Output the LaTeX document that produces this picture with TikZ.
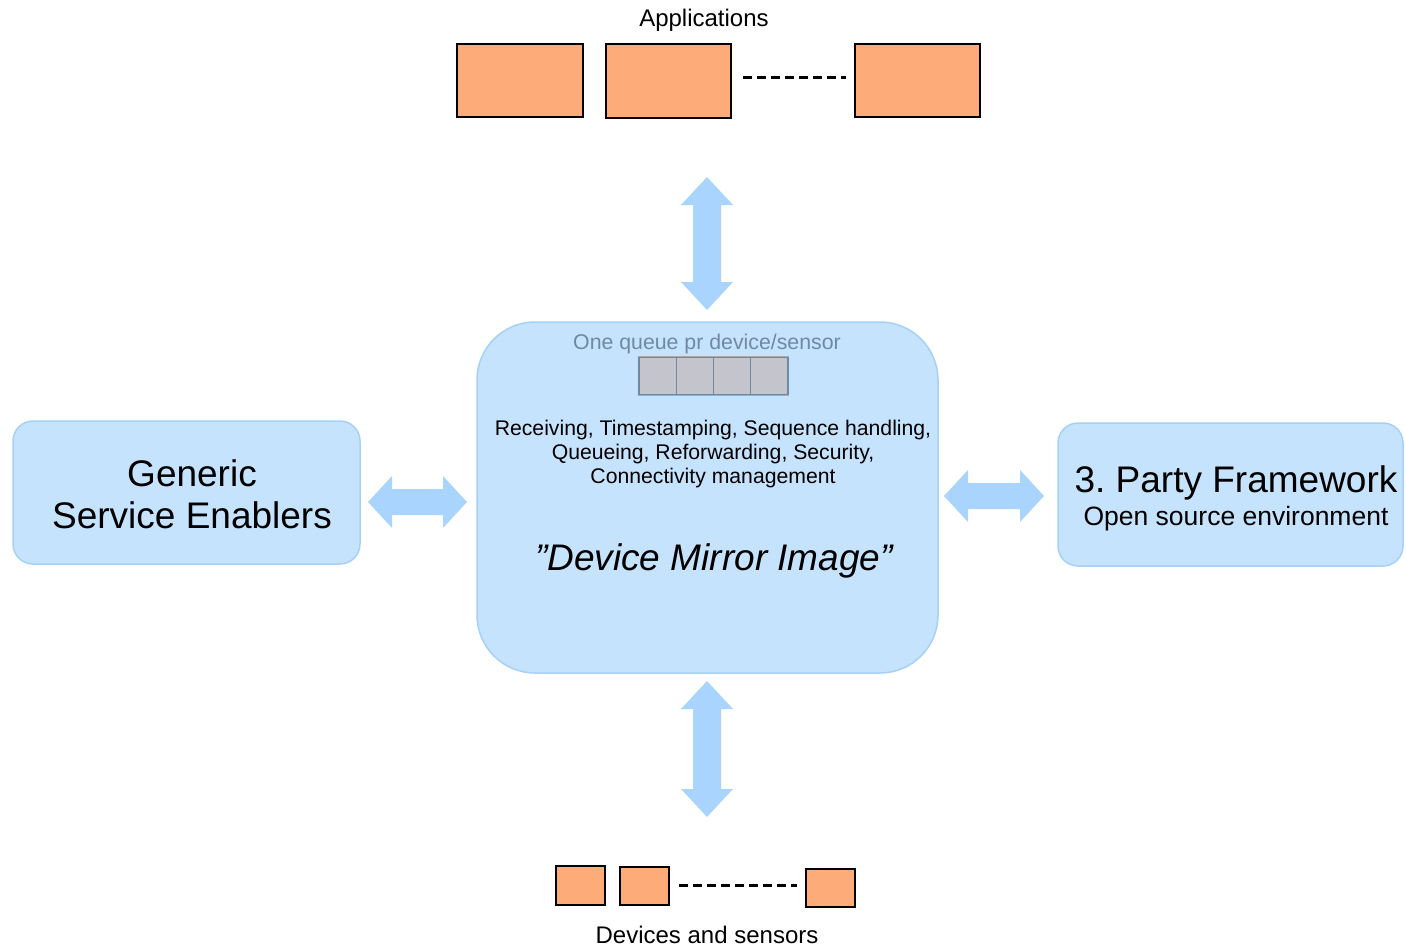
\documentclass[tikz,border=0pt]{standalone}
\usepackage{fontspec}
\setmainfont{Liberation Sans}
\frenchspacing
\definecolor{boxblue}{HTML}{C6E3FD}
\definecolor{boxborder}{HTML}{A6D1F7}
\definecolor{arrowblue}{HTML}{A8D4FE}
\definecolor{orangefill}{HTML}{FEAB7A}
\definecolor{queuefill}{HTML}{C4C4CC}
\definecolor{queueline}{HTML}{7089A3}
\definecolor{queueouter}{HTML}{A8A8B0}
\definecolor{queuetext}{HTML}{7088A6}
\newcommand\vdarrow[3]{%
  \fill[arrowblue] (#1,#2) -- ({#1+26},{#2+28}) -- ({#1+14},{#2+28}) -- ({#1+14},{#3-28}) -- ({#1+26},{#3-28}) -- (#1,#3) -- ({#1-26},{#3-28}) -- ({#1-14},{#3-28}) -- ({#1-14},{#2+28}) -- ({#1-26},{#2+28}) -- cycle;}
\newcommand\hdarrow[3]{%
  \fill[arrowblue] (#2,#1) -- ({#2+24},{#1-26}) -- ({#2+24},{#1-13}) -- ({#3-24},{#1-13}) -- ({#3-24},{#1-26}) -- (#3,#1) -- ({#3-24},{#1+26}) -- ({#3-24},{#1+13}) -- ({#2+24},{#1+13}) -- ({#2+24},{#1+26}) -- cycle;}
\begin{document}
\begin{tikzpicture}[x=1pt,y=-1pt,
  orangebox/.style={draw=black, line width=2pt, fill=orangefill, inner sep=0pt},
  bluebox/.style={draw=boxborder, line width=1.5pt, fill=boxblue, inner sep=0pt},
  txt/.style={inner sep=0pt, align=center},
  dashline/.style={line width=3pt, dash pattern=on 9pt off 5pt},
  qcell/.style={draw=queueline, line width=1.2pt, fill=queuefill, inner sep=0pt, minimum width=37.25pt, minimum height=37pt}]
\useasboundingbox (0,0) rectangle (1406,947);
% applications
\node[txt, font=\fontsize{24}{28}\selectfont] (applbl) at (704,20) {Applications};
\node[orangebox, minimum width=126pt, minimum height=73pt] (app1) at (520,80.5) {};
\node[orangebox, minimum width=125pt, minimum height=74pt] (app2) at (668.5,81) {};
\node[orangebox, minimum width=125pt, minimum height=73pt] (app3) at (917.5,80.5) {};
\draw[dashline] ([xshift=11pt,yshift=3pt]app2.east) -- ([xshift=-8pt,yshift=2.5pt]app3.west);
% central box
\node[bluebox, rounded corners=58pt, minimum width=461pt, minimum height=351pt] (dmi) at (707.5,497.5) {};
\node[txt, text=queuetext, font=\fontsize{21.3}{24}\selectfont] (qlbl) at (707,344) {One queue pr device/sensor};
\node[draw=queueouter, line width=2pt, fill=queuefill, inner sep=0pt, minimum width=149pt, minimum height=38pt] (queue) at (713.5,376) {};
\node[qcell] (q1) at (657.6,376) {};
\node[qcell] (q2) at (694.9,376) {};
\node[qcell] (q3) at (732.1,376) {};
\node[qcell] (q4) at (769.4,376) {};
\node[txt, font=\fontsize{21.2}{24}\selectfont] (func) at (713,454) {Receiving, Timestamping, Sequence handling,\\Queueing, Reforwarding, Security,\\Connectivity management};
\node[txt, font=\fontsize{37}{42}\itshape] (dmitxt) at (714,561) {”Device Mirror Image”};
% side boxes
\node[bluebox, rounded corners=20pt, minimum width=347pt, minimum height=143pt] (gse) at (186.5,492.5) {};
\node[txt, font=\fontsize{37}{42}\selectfont] (gsetxt) at (192,494) {Generic\\Service Enablers};
\node[bluebox, rounded corners=20pt, minimum width=345pt, minimum height=143pt] (tpf) at (1230.5,494.5) {};
\node[txt, font=\fontsize{37}{42}\selectfont] (tpf1) at (1236,483) {3. Party Framework};
\node[txt, font=\fontsize{26.5}{30}\selectfont] (tpf2) at (1236,519) {Open source environment};
% devices
\node[orangebox, minimum width=49pt, minimum height=39pt] (dev1) at (580.5,885.5) {};
\node[orangebox, minimum width=49pt, minimum height=38pt] (dev2) at (644.5,886) {};
\node[orangebox, minimum width=49pt, minimum height=38pt] (dev3) at (830.5,888) {};
\draw[dashline] ([xshift=9pt,yshift=1pt]dev2.east) -- ([xshift=-8pt,yshift=3pt]dev3.west);
\node[txt, font=\fontsize{24}{28}\selectfont] (devlbl) at (707,934.5) {Devices and sensors};
% arrows
\vdarrow{707}{177}{310}
\vdarrow{707}{681}{817}
\hdarrow{502}{368}{467}
\hdarrow{496}{944}{1044}
\end{tikzpicture}
\end{document}
